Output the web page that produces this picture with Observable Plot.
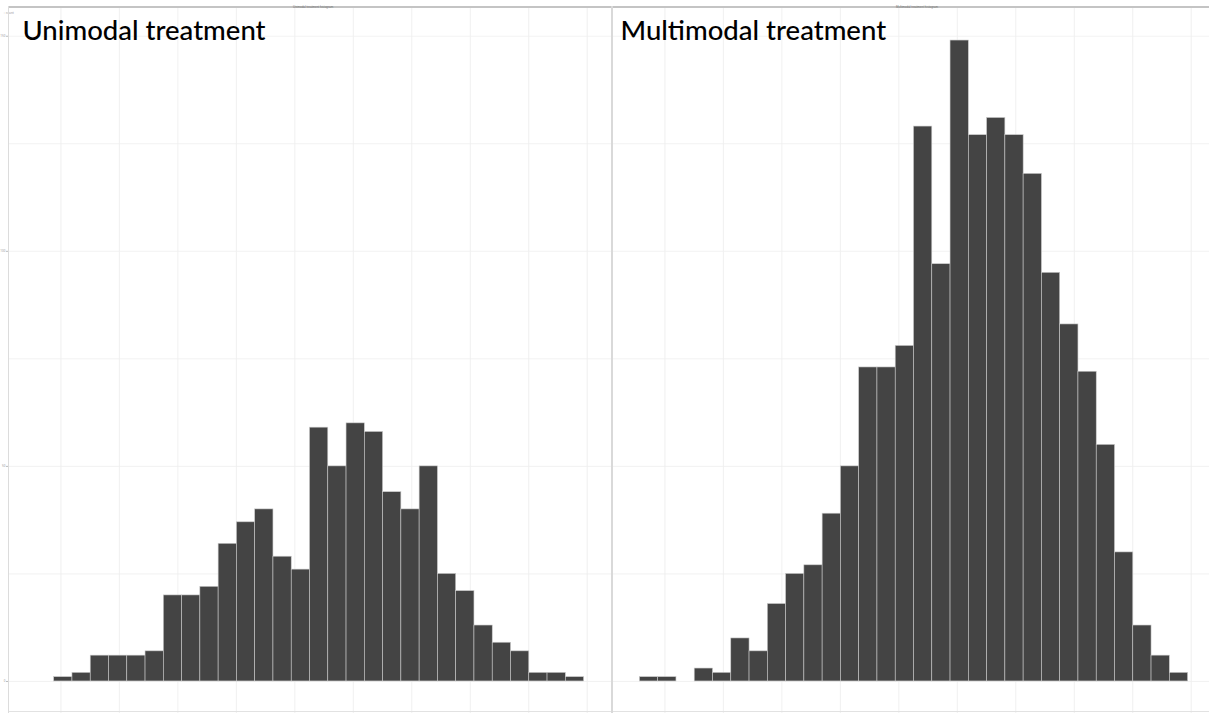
<!DOCTYPE html>
<html>
<head>
<meta charset="utf-8">
<script src="https://cdn.jsdelivr.net/npm/d3@7"></script>
<script src="https://cdn.jsdelivr.net/npm/@observablehq/plot@0.6"></script>
<style>
  html, body { margin: 0; padding: 0; background: #fff; }
  #wrap { position: relative; width: 1209px; height: 713px; overflow: hidden; background: #fff; }
  .panel { position: absolute; top: 8px; }
  .panel svg { display: block; max-width: none !important; }
  #left { left: 0px; width: 611px; }
  #right { left: 612px; width: 603px; }
  .topbar { position: absolute; top: 6px; height: 2px; background: #c4c4c4; }
  .botbar { position: absolute; top: 711px; height: 1px; background: #e2e2e2; }
  .vline { position: absolute; top: 6px; height: 707px; }
  .tiny { position: absolute; top: 5px; font: 3px sans-serif; color: #777; white-space: nowrap; }
</style>
</head>
<body>
<div id="wrap">
  <div class="panel" id="left"></div>
  <div class="panel" id="right"></div>
  <div class="topbar" style="left:8px;width:603px"></div>
  <div class="topbar" style="left:612px;width:597px"></div>
  <div class="botbar" style="left:8px;width:603px"></div>
  <div class="botbar" style="left:612px;width:597px"></div>
  <div class="vline" style="left:8px;width:1px;background:#dcdcdc"></div>
  <div class="vline" style="left:611px;width:2px;background:#d9d9d9"></div>
  <div class="tiny" style="left:293px">Unimodal treatment histogram</div>
  <div class="tiny" style="left:896px">Multimodal treatment histogram</div>
</div>
<script>
// Bin index (0..29) shared by both panels; counts per bin
const bins = d3.range(30);
const unimodalCounts   = [0, 1, 2, 6, 6, 6, 7, 20, 20, 22, 32, 37, 40, 29, 26, 59, 50, 60, 58, 44, 40, 50, 25, 21, 13, 9, 7, 2, 2, 1];
const multimodalCounts = [1, 1, 0, 3, 2, 10, 7, 18, 25, 27, 39, 50, 73, 73, 78, 129, 97, 149, 127, 131, 127, 118, 95, 83, 72, 55, 30, 13, 6, 2];
const xGridTicks = [1.37, 4.57, 7.77, 10.97, 14.17, 17.37, 20.57, 23.77, 26.97, 30.17];
const yGridTicks = [0, 25, 50, 75, 100, 125, 150];
const yLabelTicks = [0, 50, 100, 150];
const titles = ["Unimodal treatment", "Multimodal treatment"];

const yMax = d3.max([...unimodalCounts, ...multimodalCounts]);
const yDomain = [-0.05 * yMax, yMax * 1.05];
const xDomain = [-1.5, 31.5];

function panel(counts, title, withAxis, titleDx) {
  const data = bins.map(i => ({x1: i, x2: i + 1, count: counts[i]})).filter(d => d.count > 0);
  return Plot.plot({
    width: withAxis ? 611 : 603,
    height: 705,
    marginLeft: withAxis ? 8 : 0,
    marginRight: 0,
    marginTop: 0,
    marginBottom: 0,
    x: {domain: xDomain, axis: null},
    y: {domain: yDomain, axis: null},
    style: {background: "transparent", overflow: "visible"},
    marks: [
      Plot.gridX(xGridTicks, {stroke: "#ececec", strokeOpacity: 1, strokeWidth: 0.8}),
      Plot.gridY(yGridTicks, {stroke: "#efefef", strokeOpacity: 1, strokeWidth: 0.8}),
      Plot.rectY(data, {x1: "x1", x2: "x2", y: "count", fill: "#444444", stroke: "#c8c8c8", strokeWidth: 0.6, inset: 0}),
      withAxis ? Plot.axisY(yLabelTicks, {tickSize: 2, tickPadding: 1, fontSize: 3, stroke: "#bbb", color: "#999", anchor: "left"}) : null,
      Plot.text([title], {frameAnchor: "top-left", dx: titleDx, dy: 12, text: d => d, fontSize: 27.5, fill: "#000", fontFamily: "Lato", fontWeight: 500, lineAnchor: "top"})
    ]
  });
}

document.getElementById("left").appendChild(panel(unimodalCounts, titles[0], true, 14));
document.getElementById("right").appendChild(panel(multimodalCounts, titles[1], false, 8));
</script>
</body>
</html>
